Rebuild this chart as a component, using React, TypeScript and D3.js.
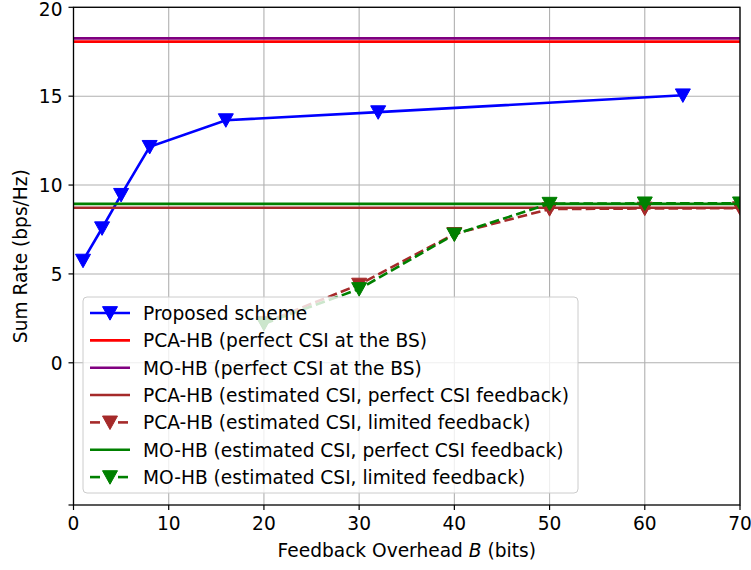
import React from "react";
import * as d3 from "d3";

const proposedX = [1, 3, 5, 8, 16, 32, 64];
const proposedY = [5.75, 7.57, 9.45, 12.15, 13.65, 14.1, 15.05];

const limitedX = [20, 30, 40, 50, 60, 70];
const pcaLimitedY = [2.25, 4.4, 7.25, 8.65, 8.68, 8.7];
const moLimitedY = [2.2, 4.15, 7.22, 8.95, 8.97, 8.97];

const pcaPerfect = 18.07;
const moPerfect = 18.25;
const pcaEstimated = 8.72;
const moEstimated = 8.94;

const xTicks = [0, 10, 20, 30, 40, 50, 60, 70];
const yTicks = [0, 5, 10, 15, 20];

const legendLabels = [
  "Proposed scheme",
  "PCA-HB (perfect CSI at the BS)",
  "MO-HB (perfect CSI at the BS)",
  "PCA-HB (estimated CSI, perfect CSI feedback)",
  "PCA-HB (estimated CSI, limited feedback)",
  "MO-HB (estimated CSI, perfect CSI feedback)",
  "MO-HB (estimated CSI, limited feedback)",
];

const W = 751, H = 570;
const L = 73.5, R = 740, T = 7.3, B = 505;
const FONT = "DejaVu Sans";
const FS = 18.6;
const LW = 2.6;
const DASH = "9.6 4.2";

function Tri({ x, y, color, s = 7.5 }: { x: number; y: number; color: string; s?: number }) {
  const p = `M${x - s},${y - s * 0.85}L${x + s},${y - s * 0.85}L${x},${y + s * 0.95}Z`;
  return <path d={p} fill={color} stroke={color} strokeWidth={1} />;
}

export default function App() {
  React.useEffect(() => {
    document.body.style.margin = "0";
  }, []);
  const x = d3.scaleLinear().domain([0, 70]).range([L, R]);
  const y = d3.scaleLinear().domain([-8, 20]).range([B, T]);
  const line = d3.line<[number, number]>().x((d) => x(d[0])).y((d) => y(d[1]));

  const propPts = proposedX.map((v, i) => [v, proposedY[i]] as [number, number]);
  const pcaPts = limitedX.map((v, i) => [v, pcaLimitedY[i]] as [number, number]);
  const moPts = limitedX.map((v, i) => [v, moLimitedY[i]] as [number, number]);

  const legX = 83, legY = 297, legW = 495, legH = 196, rowH = 27.35;
  const legendStyles = [
    { c: "#0000ff", dash: false, marker: true },
    { c: "#ff0000", dash: false, marker: false },
    { c: "#800080", dash: false, marker: false },
    { c: "#a52a2a", dash: false, marker: false },
    { c: "#a52a2a", dash: true, marker: true },
    { c: "#008000", dash: false, marker: false },
    { c: "#008000", dash: true, marker: true },
  ];

  return (
    <svg width={W} height={H} style={{ display: "block", background: "#fff" }} fontFamily={FONT}>
      <rect x={0} y={0} width={W} height={H} fill="#fff" />
      <defs>
        <clipPath id="clip">
          <rect x={L} y={T} width={R - L} height={B - T} />
        </clipPath>
      </defs>
      {/* grid */}
      {xTicks.map((t) => (
        <line key={"gx" + t} x1={x(t)} x2={x(t)} y1={T} y2={B} stroke="#b0b0b0" strokeWidth={1.1} />
      ))}
      {yTicks.map((t) => (
        <line key={"gy" + t} x1={L} x2={R} y1={y(t)} y2={y(t)} stroke="#b0b0b0" strokeWidth={1.1} />
      ))}
      <g clipPath="url(#clip)">
        <path d={line(propPts) || ""} fill="none" stroke="#0000ff" strokeWidth={LW} />
        {propPts.map((d, i) => (
          <Tri key={"p" + i} x={x(d[0])} y={y(d[1])} color="#0000ff" />
        ))}
        <line x1={L} x2={R} y1={y(pcaPerfect)} y2={y(pcaPerfect)} stroke="#ff0000" strokeWidth={LW} />
        <line x1={L} x2={R} y1={y(moPerfect)} y2={y(moPerfect)} stroke="#800080" strokeWidth={LW} />
        <line x1={L} x2={R} y1={y(pcaEstimated)} y2={y(pcaEstimated)} stroke="#a52a2a" strokeWidth={LW} />
        <path d={line(pcaPts) || ""} fill="none" stroke="#a52a2a" strokeWidth={LW} strokeDasharray={DASH} />
        {pcaPts.map((d, i) => (
          <Tri key={"a" + i} x={x(d[0])} y={y(d[1])} color="#a52a2a" />
        ))}
        <line x1={L} x2={R} y1={y(moEstimated)} y2={y(moEstimated)} stroke="#008000" strokeWidth={LW} />
        <path d={line(moPts) || ""} fill="none" stroke="#008000" strokeWidth={LW} strokeDasharray={DASH} />
        {moPts.map((d, i) => (
          <Tri key={"m" + i} x={x(d[0])} y={y(d[1])} color="#008000" />
        ))}
      </g>
      {/* spines */}
      <rect x={L} y={T} width={R - L} height={B - T} fill="none" stroke="#000" strokeWidth={1.3} />
      {/* ticks */}
      {xTicks.map((t) => (
        <g key={"tx" + t}>
          <line x1={x(t)} x2={x(t)} y1={B} y2={B + 5} stroke="#000" strokeWidth={1.2} />
          <text x={x(t)} y={B + 25} textAnchor="middle" fontSize={FS} fill="#000">{t}</text>
        </g>
      ))}
      {yTicks.map((t) => (
        <g key={"ty" + t}>
          <line x1={L - 5} x2={L} y1={y(t)} y2={y(t)} stroke="#000" strokeWidth={1.2} />
          <text x={L - 11} y={Math.max(y(t) + 6.8, 15.5)} textAnchor="end" fontSize={FS} fill="#000">{t}</text>
        </g>
      ))}
      <line x1={L - 5} x2={L} y1={B} y2={B} stroke="#000" strokeWidth={1.2} />
      {/* axis labels */}
      <text x={(L + R) / 2} y={557} textAnchor="middle" fontSize={FS} fill="#000">
        Feedback Overhead <tspan fontStyle="italic">B</tspan> (bits)
      </text>
      <text transform={`translate(27, ${(T + B) / 2}) rotate(-90)`} textAnchor="middle" fontSize={FS} fill="#000">
        Sum Rate (bps/Hz)
      </text>
      {/* legend */}
      <rect x={legX} y={legY} width={legW} height={legH} rx={4} fill="#fff" fillOpacity={0.8} stroke="#cccccc" strokeWidth={1} />
      {legendLabels.map((lab, i) => {
        const cy = legY + 16 + i * rowH;
        const s = legendStyles[i];
        return (
          <g key={"l" + i}>
            {s.dash ? (
              <g>
                <line x1={90} x2={100} y1={cy} y2={cy} stroke={s.c} strokeWidth={LW} />
                <line x1={118} x2={128} y1={cy} y2={cy} stroke={s.c} strokeWidth={LW} />
              </g>
            ) : (
              <line x1={90} x2={130} y1={cy} y2={cy} stroke={s.c} strokeWidth={LW} />
            )}
            {s.marker && <Tri x={110} y={cy} color={s.c} />}
            <text x={143} y={cy + 6.8} fontSize={FS} fill="#000">{lab}</text>
          </g>
        );
      })}
    </svg>
  );
}
